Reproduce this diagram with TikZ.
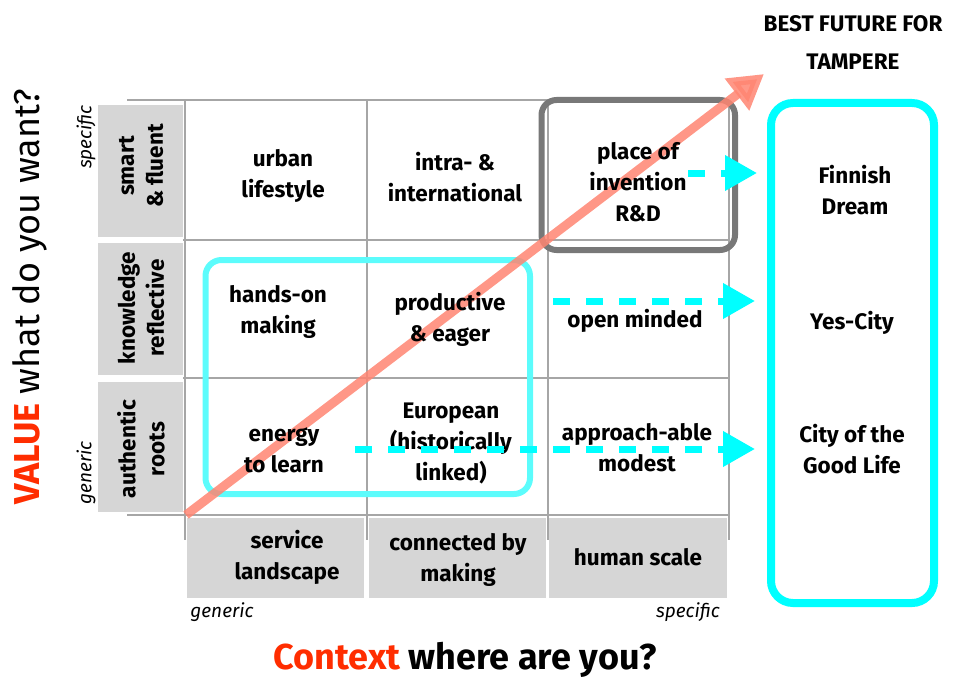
\documentclass[tikz,border=0pt]{standalone}
\usepackage{fontspec}
\setmainfont{Fira Sans}
\usetikzlibrary{arrows.meta}
\definecolor{gridline}{HTML}{A6A6A6}
\definecolor{labelfill}{HTML}{D6D6D6}
\definecolor{framegray}{HTML}{787878}
\definecolor{aqua}{HTML}{00FFFF}
\definecolor{paleaqua}{HTML}{5CFCFC}
\definecolor{salmon}{HTML}{FF8572}
\definecolor{signal}{HTML}{FF2D00}
\begin{document}
\begin{tikzpicture}[x=1pt,y=-1pt,
  gridrule/.style={draw=gridline, line width=1.2pt},
  labelbox/.style={fill=labelfill},
  celltext/.style={font=\fontsize{22.5}{31}\selectfont\bfseries, align=center, inner sep=0pt},
  sidetext/.style={font=\fontsize{22.5}{29}\selectfont\bfseries, align=center, inner sep=0pt, rotate=90},
  axisnote/.style={font=\fontsize{19}{22}\selectfont\itshape, inner sep=0pt},
  futurebox/.style={draw=aqua, line width=8pt, rounded corners=22pt},
  flow/.style={draw=aqua, line width=7pt, dash pattern=on 17pt off 16pt,
               -{Triangle[length=32pt,width=34pt]}},
]
\useasboundingbox (0,0) rectangle (965,679);

% grid rules
\foreach \y in {100,515} \draw[gridrule] (127,\y) -- (729,\y);
\foreach \y in {240,378} \draw[gridrule] (183,\y) -- (729,\y);
\foreach \x in {185,367,548,729} \draw[gridrule] (\x,100) -- (\x,540);

% row labels (value)
\fill[labelbox] (98,105) rectangle (183,237);
\fill[labelbox] (98,243) rectangle (183,375);
\fill[labelbox] (98,382) rectangle (183,512);
% column labels (context)
\fill[labelbox] (187,518) rectangle (364,598);
\fill[labelbox] (369,518) rectangle (546,598);
\fill[labelbox] (549,518) rectangle (727,598);

% groupings
\draw[paleaqua, line width=6pt, rounded corners=16pt] (205.5,260) rectangle (530,494);
\draw[framegray, line width=6pt, rounded corners=15pt] (541.5,100) rectangle (735,250);
\draw[futurebox] (771,103) rectangle (934,603);

% direction of travel
\coordinate (origin) at (186,515);
\coordinate (goal) at (764,74);
\draw[salmon, opacity=0.85, line width=9pt,
      -{Triangle[length=34pt,width=38pt]}] (origin) -- (goal);

% cells
\node[celltext] (c11) at (283,176) {urban\\lifestyle};
\node[celltext] (c12) at (455,177) {intra- \&\\international};
\node[celltext] (c13) at (638,182) {place of\\invention\\R\&D};
\node[celltext] (c21) at (278,312) {hands-on\\making};
\node[celltext] (c22) at (450,319.5) {productive\\\& eager};
\node[celltext] (c23) at (635,321) {open minded};
\node[celltext] (c31) at (284,450) {energy\\to learn};
\node[celltext] (c32) at (451,443) {European\\(historically\\linked)};
\node[celltext] (c33) at (637,447.5) {approach-able\\modest};

% axis labels
\node[sidetext] (v1) at (141,166) {smart\\\& fluent};
\node[sidetext] (v2) at (141,308) {knowledge\\reflective};
\node[sidetext] (v3) at (141,449) {authentic\\roots};
\node[celltext] (k1) at (287,557) {service\\landscape};
\node[celltext] (k2) at (458,560) {connected by\\making};
\node[celltext] (k3) at (638,557) {human scale};

\node[axisnote, rotate=90] (vhi) at (86,137) {specific};
\node[axisnote, rotate=90] (vlo) at (86,473) {generic};
\node[axisnote] (klo) at (222,612) {generic};
\node[axisnote] (khi) at (688,612) {specific};

\node[font=\fontsize{36}{40}\selectfont, rotate=90, inner sep=0pt] (vtitle) at (30,297)
  {\textcolor{signal}{\bfseries VALUE} what do you want?};
\node[font=\fontsize{36}{40}\selectfont\bfseries, inner sep=0pt] (ktitle) at (465,660)
  {\textcolor{signal}{Context} where are you?};

% best future
\node[font=\fontsize{22.5}{38}\selectfont\bfseries, align=center, inner sep=0pt] (best) at (853,43)
  {BEST FUTURE FOR\\TAMPERE};
\node[celltext] (f1) at (855,190) {Finnish\\Dream};
\node[celltext] (f2) at (852,323) {Yes-City};
\node[celltext] (f3) at (852,449) {City of the\\Good Life};

% links to futures
\coordinate (s1) at (688,173);  \coordinate (t1) at (757,173);
\coordinate (s2) at (553,301);  \coordinate (t2) at (755,301);
\coordinate (s3) at (355,449);  \coordinate (t3) at (755,449);
\draw[flow] (s1) -- (t1);
\draw[flow] (s2) -- (t2);
\draw[flow] (s3) -- (t3);
\end{tikzpicture}
\end{document}
